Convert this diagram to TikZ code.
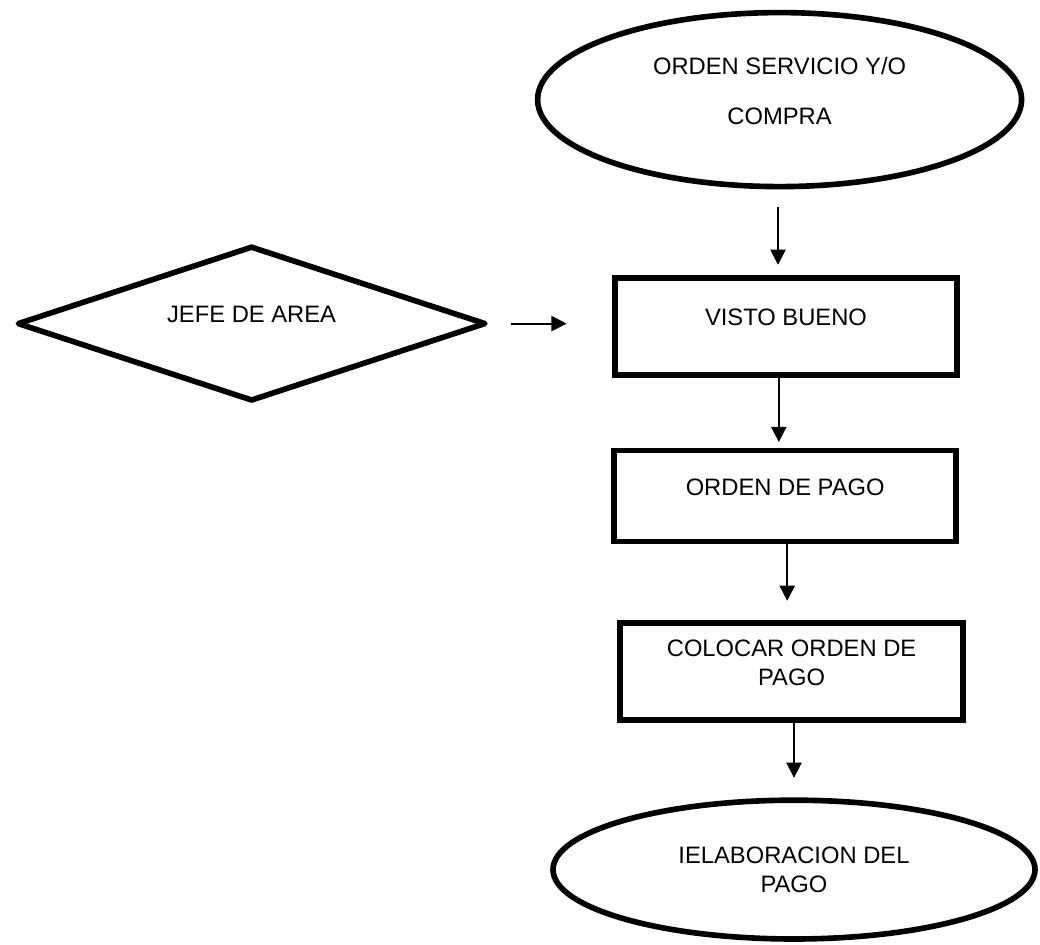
\documentclass[tikz,border=0pt]{standalone}
\usepackage{fontspec}
\setmainfont{Liberation Sans}
\usepackage{tikz}
\usetikzlibrary{arrows.meta,shapes.geometric,positioning}

\begin{document}
\begin{tikzpicture}[
    texto/.style={font=\fontsize{16.9}{20.3}\selectfont, align=center, inner sep=0pt},
    subido/.style={execute at end node={\rule[-0.45cm]{0pt}{0pt}}},
    elipse/.style={texto, ellipse, draw, line width=4pt},
    caja/.style={texto, rectangle, draw, line width=4pt},
    rombo/.style={texto, diamond, aspect=3, draw, line width=4pt, line join=round},
    flecha/.style={line width=1.3pt, -{Triangle[length=0.38cm,width=0.38cm]}}
  ]
  \useasboundingbox (0,0) rectangle (26,-23.625);

  \node[elipse, subido, minimum width=12.1cm, minimum height=4.35cm] (inicio) at (19.49,-2.49)
    {ORDEN SERVICIO Y/O\\[15pt]COMPRA};
  \node[caja, subido, minimum width=8.55cm, minimum height=2.42cm] (visto) at (19.65,-8.16) {VISTO BUENO};
  \node[rombo, subido, minimum width=11.72cm, minimum height=3.88cm] (jefe) at (6.29,-8.09) {JEFE DE AREA};
  \node[caja, subido, minimum width=8.55cm, minimum height=2.28cm] (pago) at (19.63,-12.4) {ORDEN DE PAGO};
  \node[caja, subido, minimum width=8.57cm, minimum height=2.42cm] (colocar) at (19.79,-16.79)
    {COLOCAR ORDEN DE\\PAGO};
  \node[elipse, minimum width=12.05cm, minimum height=3.47cm] (fin) at (19.85,-21.74)
    {IELABORACION DEL\\PAGO};

  % conectores
  \draw[flecha, shorten <=0.45cm, shorten >=0.26cm] ([xshift=-0.04cm]inicio.south) -- ([xshift=-0.04cm]inicio.south |- visto.north);
  \draw[flecha, shorten <=0.56cm, shorten >=1.14cm] (jefe.east) -- (jefe.east -| visto.west);
  \draw[flecha, shorten >=0.14cm] ([xshift=-0.18cm]visto.south) -- ([xshift=-0.18cm]visto.south |- pago.north);
  \draw[flecha, shorten >=0.49cm] ([xshift=0.05cm]pago.south) -- ([xshift=0.05cm]pago.south |- colocar.north);
  \draw[flecha, shorten >=0.49cm] ([xshift=0.06cm]colocar.south) -- ([xshift=0.06cm]colocar.south |- fin.north);
\end{tikzpicture}
\end{document}
